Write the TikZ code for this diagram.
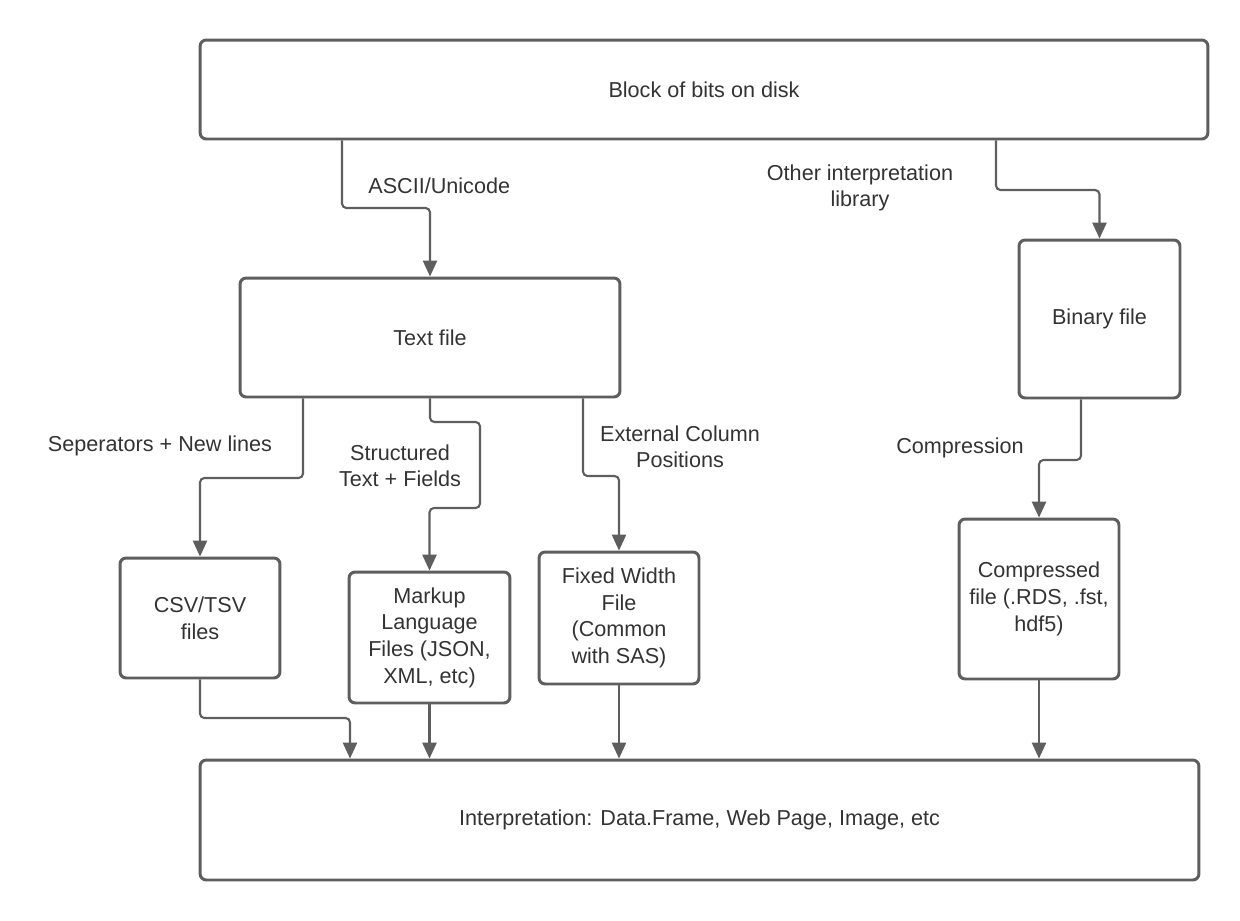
\documentclass[tikz,border=0pt]{standalone}
\usepackage{fontspec}
\setmainfont{Liberation Sans}
\usetikzlibrary{arrows.meta}
\definecolor{lineGray}{HTML}{5E5E5E}
\definecolor{textGray}{HTML}{333333}
\tikzset{
	box/.style={draw=lineGray, line width=1.7pt, rounded corners=3.5pt, align=center,
		text=textGray, font=\fontsize{12.3}{15.2}\selectfont, inner sep=0pt},
	flow/.style={draw=lineGray, line width=1.2pt, rounded corners=2.5pt,
		-{Triangle[width=8pt,length=9pt]}},
	lbl/.style={align=center, text=textGray, font=\fontsize{12.3}{14.8}\selectfont, inner sep=0pt}
}
\begin{document}
\begin{tikzpicture}[x=0.02cm, y=-0.02cm]
			\useasboundingbox (0,0) rectangle (1240,920);
			% boxes
			\node[box, minimum width=20.16cm, minimum height=1.98cm] (disk) at (704,89.5) {Block of bits on disk};
			\node[box, minimum width=7.6cm, minimum height=2.38cm] (text) at (430,337.5) {Text file};
			\node[box, minimum width=3.22cm, minimum height=3.16cm] (binary) at (1099.5,319) {Binary file};
			\node[box, minimum width=3.2cm, minimum height=2.4cm] (csv) at (200,618) {CSV/TSV\\files};
			\node[box, minimum width=3.22cm, minimum height=2.62cm] (markup) at (429.5,637.5) {Markup\\Language\\Files (JSON,\\XML, etc)};
			\node[box, minimum width=3.2cm, minimum height=2.64cm] (fixed) at (619,618) {Fixed Width\\File\\(Common\\with SAS)};
			\node[box, minimum width=3.2cm, minimum height=3.2cm] (compressed) at (1039,599) {Compressed\\file (.RDS, .fst,\\hdf5)};
			\node[box, minimum width=19.98cm, minimum height=2.4cm] (interp) at (699.5,820) {Interpretation: Data.Frame, Web Page, Image, etc};
			% labels
			\node[lbl, anchor=west] (ascii) at (368,186) {ASCII/Unicode};
			\node[lbl] (other) at (860,188) {Other interpretation\\library};
			\node[lbl] (sep) at (160,446) {Seperators + New lines};
			\node[lbl] (struct) at (400,466) {Structured\\Text + Fields};
			\node[lbl] (extcol) at (680,447) {External Column\\Positions};
			\node[lbl] (compr) at (960,448) {Compression};
			% connectors
			\draw[flow] (disk.south -| 342,0) -- (342,208) -- (430,208) -- (text.north);
			\draw[flow] (disk.south -| 996,0) -- (996,190) -- (1099.5,190) -- (binary.north);
			\draw[flow] (text.south -| 303,0) -- (303,478) -- (200,478) -- (csv.north);
			\draw[flow] (text.south) -- (430,422) -- (480,422) -- (480,508) -- (429.5,508) -- (markup.north);
			\draw[flow] (text.south -| 583,0) -- (583,476) -- (619,476) -- (fixed.north);
			\draw[flow] (binary.south -| 1081,0) -- (1081,460) -- (1039,460) -- (compressed.north);
			\draw[flow] (csv.south) -- (200,718) -- (350,718) -- (interp.north -| 350,0);
			\draw[flow] (markup.south) -- (interp.north -| markup.south);
			\draw[flow] (fixed.south) -- (interp.north -| fixed.south);
			\draw[flow] (compressed.south) -- (interp.north -| compressed.south);
			\end{tikzpicture}
\end{document}
